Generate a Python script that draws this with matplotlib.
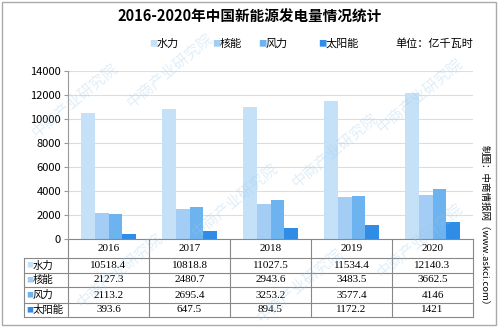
import matplotlib.pyplot as plt
import numpy as np
from matplotlib.patches import Rectangle
from matplotlib.transforms import blended_transform_factory

plt.rcParams['font.family'] = ['Noto Sans CJK SC', 'DejaVu Sans']

years = ['2016', '2017', '2018', '2019', '2020']
series = ['水力', '核能', '风力', '太阳能']
hydro = [10518.4, 10818.8, 11027.5, 11534.4, 12140.3]
nuclear = [2127.3, 2480.7, 2943.6, 3483.5, 3662.5]
wind = [2113.2, 2695.4, 3253.2, 3577.4, 4146]
solar = [393.6, 647.5, 894.5, 1172.2, 1421]
labels_txt = [['10518.4', '10818.8', '11027.5', '11534.4', '12140.3'],
              ['2127.3', '2480.7', '2943.6', '3483.5', '3662.5'],
              ['2113.2', '2695.4', '3253.2', '3577.4', '4146'],
              ['393.6', '647.5', '894.5', '1172.2', '1421']]
colors = ['#c4e1f8', '#a3cdf4', '#6db3ef', '#2f8de8']

W, H = 499, 327
fig = plt.figure(figsize=(W / 100, H / 100), dpi=100)

def fx(px):
    return px / W

def fy(py):
    return 1 - py / H

ax = fig.add_axes([fx(68), fy(239), fx(473) - fx(68), fy(71) - fy(239)])
x = np.arange(len(years))
bw = 0.17
values = [hydro, nuclear, wind, solar]
for i, (vals, c) in enumerate(zip(values, colors)):
    ax.bar(x + (i - 1.5) * bw, vals, bw, color=c, zorder=2)

ax.set_xlim(-0.5, len(years) - 0.5)
ax.set_ylim(0, 14000)
ax.set_yticks(range(0, 14001, 2000))
ax.tick_params(axis='y', labelsize=8, length=3, color='#999999', pad=2)
ax.tick_params(axis='x', bottom=False, labelbottom=False)
ax.yaxis.grid(True, color='#dddddd', lw=0.8, zorder=0)
for s in ['top', 'right', 'bottom']:
    ax.spines[s].set_visible(False)
ax.spines['left'].set_color('#999999')

# data table below the plot
tr = blended_transform_factory(ax.transData, fig.transFigure)
row_y = [239, 258, 273, 287, 303, 317]
lc = '#888888'
x_left = -0.5
x_tab = x_left - (68 - 24) / 405 * 5
for yy in row_y:
    x0 = x_left if yy == 239 else x_tab
    ax.plot([x0, 4.5], [fy(yy)] * 2, color=lc, lw=0.8, transform=tr, clip_on=False)
for k in range(6):
    ax.plot([k - 0.5] * 2, [fy(239), fy(317)], color=lc, lw=0.8, transform=tr, clip_on=False)
ax.plot([x_tab] * 2, [fy(258), fy(317)], color=lc, lw=0.8, transform=tr, clip_on=False)
serif = ['Liberation Serif', 'DejaVu Serif']
for k, yr in enumerate(years):
    ax.text(k, fy(248.5), yr, ha='center', va='center', fontsize=8, family=serif, transform=tr)
for r in range(4):
    yc = fy((row_y[r + 1] + row_y[r + 2]) / 2)
    ax.text(x_tab + 0.03, yc, '■', color=colors[r], fontsize=5, ha='left', va='center', transform=tr)
    ax.text(x_tab + 0.11, yc, series[r], fontsize=7.5, ha='left', va='center', transform=tr)
    for k in range(5):
        ax.text(k, yc, labels_txt[r][k], ha='center', va='center', fontsize=8,
                family=serif, transform=tr)

# title, legend and unit
fig.text(0.5, fy(17), '2016-2020年中国新能源发电量情况统计', ha='center', va='center',
         fontsize=10.5, fontweight='bold')
leg_x = [149, 212, 258, 318]
for lx, name, c in zip(leg_x, series, colors):
    fig.text(fx(lx), fy(44), '■', color=c, fontsize=6, ha='left', va='center')
    fig.text(fx(lx + 8), fy(44), name, fontsize=8, ha='left', va='center')
fig.text(fx(395), fy(44), '单位：亿千瓦时', fontsize=8, ha='left', va='center')
fig.text(fx(484), fy(228), '制图：中商情报网（www.askci.com）', fontsize=6.8,
         rotation=-90, ha='center', va='center')

# faint watermark
for wx, wy in [(75, 100), (170, 70), (235, 200), (335, 150), (420, 95), (120, 270), (300, 285), (420, 240)]:
    fig.text(fx(wx), fy(wy), '中商产业研究院', fontsize=11, color='#9cc9ea', alpha=0.3,
             rotation=40, ha='center', va='center')

fig.patches.append(Rectangle((fx(2), fy(325)), fx(496) - fx(2), fy(2) - fy(325),
                             transform=fig.transFigure, fill=False, ec='#aaaaaa', lw=1))

fig.savefig('out.png', dpi=100)
